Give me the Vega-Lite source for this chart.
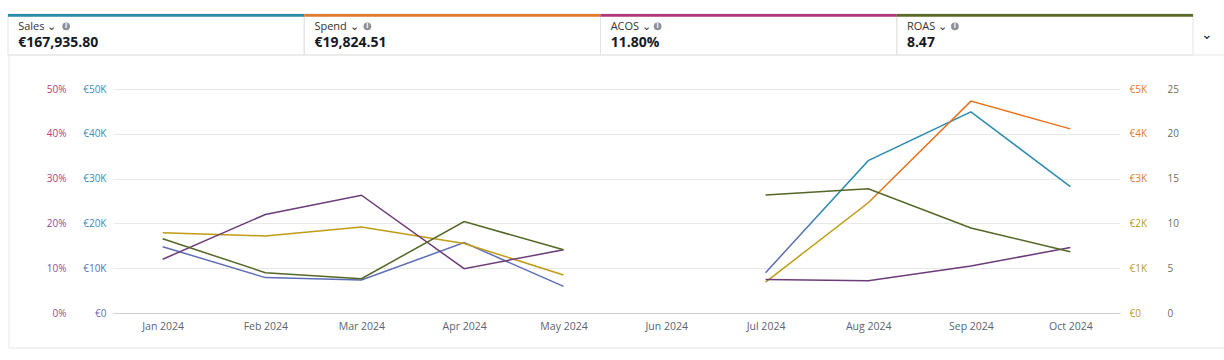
{
  "$schema": "https://vega.github.io/schema/vega-lite/v6.json",
  "width": 1007,
  "height": 224,
  "autosize": "none",
  "padding": {"left": 113, "top": 89, "right": 104, "bottom": 47},
  "background": "#ffffff",
  "config": {
    "font": "Open Sans",
    "view": {"stroke": null},
    "axis": {"labelFont": "Open Sans", "labelFontSize": 10, "ticks": false, "domain": false, "grid": false, "title": null}
  },
  "datasets": {
    "monthly": [
      {"month": "2024-01-01", "sales": 14800, "spend": 1790, "acos": 0.120, "roas": 8.29},
      {"month": "2024-02-01", "sales": 7900, "spend": 1720, "acos": 0.220, "roas": 4.5},
      {"month": "2024-03-01", "sales": 7370, "spend": 1920, "acos": 0.263, "roas": 3.83},
      {"month": "2024-04-01", "sales": 15700, "spend": 1550, "acos": 0.099, "roas": 10.2},
      {"month": "2024-05-01", "sales": 5950, "spend": 850, "acos": 0.141, "roas": 7.06},
      {"month": "2024-06-01", "sales": null, "spend": null, "acos": null, "roas": null},
      {"month": "2024-07-01", "sales": 9000, "spend": 690, "acos": 0.075, "roas": 13.17},
      {"month": "2024-08-01", "sales": 34000, "spend": 2460, "acos": 0.072, "roas": 13.87},
      {"month": "2024-09-01", "sales": 44900, "spend": 4730, "acos": 0.105, "roas": 9.49},
      {"month": "2024-10-01", "sales": 28200, "spend": 4110, "acos": 0.146, "roas": 6.84}
    ],
    "tiles": [
      {"metric": "Sales", "label": "Sales", "value": "€167,935.80"},
      {"metric": "Spend", "label": "Spend", "value": "€19,824.51"},
      {"metric": "ACOS", "label": "ACOS", "value": "11.80%"},
      {"metric": "ROAS", "label": "ROAS", "value": "8.47"}
    ],
    "card": [{"part": "card"}]
  },
  "layer": [
    {
      "data": {"name": "card"},
      "mark": {"type": "rect", "filled": false, "stroke": "#e6e6e6", "strokeWidth": 1},
      "encoding": {
        "x": {"datum": 0, "type": "quantitative", "scale": {"domain": [0, 1], "range": [-104, 1130], "nice": false, "zero": false}, "axis": null},
        "x2": {"datum": 1},
        "y": {"datum": 0, "type": "quantitative", "scale": {"domain": [0, 1], "range": [259, -34], "nice": false, "zero": false}, "axis": null},
        "y2": {"datum": 1}
      }
    },
    {
      "data": {"name": "tiles"},
      "mark": {"type": "rect", "filled": false, "stroke": "#e3e3e3", "strokeWidth": 1},
      "encoding": {
        "x": {"field": "metric", "type": "nominal", "scale": {"domain": ["Sales", "Spend", "ACOS", "ROAS"], "range": [-105, 1080], "paddingInner": 0, "paddingOuter": 0}, "axis": null},
        "y": {"datum": 0, "type": "quantitative", "scale": {"domain": [0, 1], "range": [-34, -75], "nice": false, "zero": false}, "axis": null},
        "y2": {"datum": 1}
      }
    },
    {
      "data": {"name": "tiles"},
      "mark": {"type": "rect"},
      "encoding": {
        "x": {"field": "metric", "type": "nominal", "scale": {"domain": ["Sales", "Spend", "ACOS", "ROAS"], "range": [-105, 1080], "paddingInner": 0, "paddingOuter": 0}, "axis": null},
        "y": {"datum": 0.93, "type": "quantitative", "scale": {"domain": [0, 1], "range": [-34, -75], "nice": false, "zero": false}, "axis": null},
        "y2": {"datum": 1},
        "color": {"field": "metric", "type": "nominal", "scale": {"domain": ["Sales", "Spend", "ACOS", "ROAS"], "range": ["#2a8cab", "#e07a2c", "#b2367a", "#5b6b27"]}, "legend": null}
      }
    },
    {
      "data": {"name": "tiles"},
      "mark": {"type": "point", "filled": true, "shape": "circle", "size": 60, "opacity": 1, "color": "#8d9096", "xOffset": {"expr": "datum.metric == 'Spend' ? -85 : datum.metric == 'ACOS' ? -91 : -90"}},
      "encoding": {
        "x": {"field": "metric", "type": "nominal", "scale": {"domain": ["Sales", "Spend", "ACOS", "ROAS"], "range": [-105, 1080], "paddingInner": 0, "paddingOuter": 0}, "axis": null},
        "y": {"datum": 0.7, "type": "quantitative", "scale": {"domain": [0, 1], "range": [-34, -75], "nice": false, "zero": false}, "axis": null}
      }
    },
    {
      "data": {"name": "tiles"},
      "mark": {"type": "text", "align": "center", "baseline": "middle", "fontSize": 7, "fontWeight": "bold", "fill": "#ffffff", "dx": {"expr": "datum.metric == 'Spend' ? -85 : datum.metric == 'ACOS' ? -91 : -90"}},
      "encoding": {
        "x": {"field": "metric", "type": "nominal", "scale": {"domain": ["Sales", "Spend", "ACOS", "ROAS"], "range": [-105, 1080], "paddingInner": 0, "paddingOuter": 0}, "axis": null},
        "y": {"datum": 0.7, "type": "quantitative", "scale": {"domain": [0, 1], "range": [-34, -75], "nice": false, "zero": false}, "axis": null},
        "text": {"value": "i"}
      }
    },
    {
      "data": {"name": "tiles"},
      "transform": [{"calculate": "datum.label + ' ⌄'", "as": "labelText"}],
      "mark": {"type": "text", "align": "left", "baseline": "middle", "fontSize": 11, "dx": -138, "fill": "#333333"},
      "encoding": {
        "x": {"field": "metric", "type": "nominal", "scale": {"domain": ["Sales", "Spend", "ACOS", "ROAS"], "range": [-105, 1080], "paddingInner": 0, "paddingOuter": 0}, "axis": null},
        "y": {"datum": 0.68, "type": "quantitative", "scale": {"domain": [0, 1], "range": [-34, -75], "nice": false, "zero": false}, "axis": null},
        "text": {"field": "labelText"}
      }
    },
    {
      "data": {"name": "tiles"},
      "mark": {"type": "text", "align": "left", "baseline": "middle", "fontSize": 14, "fontWeight": "bold", "dx": -138, "fill": "#16191f"},
      "encoding": {
        "x": {"field": "metric", "type": "nominal", "scale": {"domain": ["Sales", "Spend", "ACOS", "ROAS"], "range": [-105, 1080], "paddingInner": 0, "paddingOuter": 0}, "axis": null},
        "y": {"datum": 0.295, "type": "quantitative", "scale": {"domain": [0, 1], "range": [-34, -75], "nice": false, "zero": false}, "axis": null},
        "text": {"field": "value"}
      }
    },
    {
      "data": {"name": "tiles"},
      "transform": [{"filter": "datum.metric == 'ROAS'"}],
      "mark": {"type": "text", "align": "center", "baseline": "middle", "fontSize": 14, "dx": 162, "fill": "#232f3e"},
      "encoding": {
        "x": {"field": "metric", "type": "nominal", "scale": {"domain": ["Sales", "Spend", "ACOS", "ROAS"], "range": [-105, 1080], "paddingInner": 0, "paddingOuter": 0}, "axis": null},
        "y": {"datum": 0.5, "type": "quantitative", "scale": {"domain": [0, 1], "range": [-34, -75], "nice": false, "zero": false}, "axis": null},
        "text": {"value": "⌄"}
      }
    },
    {
      "data": {"name": "monthly"},
      "mark": {"type": "line", "strokeWidth": 1.5, "stroke": {"gradient": "linear", "x1": 0, "y1": 0, "x2": 0, "y2": 1, "stops": [{"offset": 0, "color": "#2b8cb0"}, {"offset": 0.53, "color": "#2b8cb0"}, {"offset": 0.72, "color": "#5d6db6"}, {"offset": 1, "color": "#5d6db6"}]}},
      "encoding": {
        "x": {"field": "month", "type": "temporal", "scale": {"type": "utc", "domain": [{"year": 2023, "month": 12, "date": 17, "utc": true}, {"year": 2024, "month": 10, "date": 16, "utc": true}]},
          "axis": {"orient": "bottom", "values": [
            {"year": 2024, "month": 1, "date": 1, "utc": true}, {"year": 2024, "month": 2, "date": 1, "utc": true},
            {"year": 2024, "month": 3, "date": 1, "utc": true}, {"year": 2024, "month": 4, "date": 1, "utc": true},
            {"year": 2024, "month": 5, "date": 1, "utc": true}, {"year": 2024, "month": 6, "date": 1, "utc": true},
            {"year": 2024, "month": 7, "date": 1, "utc": true}, {"year": 2024, "month": 8, "date": 1, "utc": true},
            {"year": 2024, "month": 9, "date": 1, "utc": true}, {"year": 2024, "month": 10, "date": 1, "utc": true}],
            "labelExpr": "utcFormat(datum.value, '%b %Y')", "domain": true, "domainColor": "#d0d0d0", "domainWidth": 1.2, "labelColor": "#5b6372", "labelFontSize": 10.5, "labelPadding": 8}},
        "y": {"field": "sales", "type": "quantitative", "scale": {"domain": [0, 50000], "nice": false},
          "axis": {"orient": "left", "values": [0, 10000, 20000, 30000, 40000, 50000], "labelExpr": "datum.value == 0 ? '€0' : '€' + datum.value / 1000 + 'K'", "grid": true, "gridColor": "#e8e8e8", "labelPadding": 7,
            "labelColor": {"condition": {"test": "datum.value >= 20000", "value": "#3a8dbb"}, "value": "#5a6fb5"}}}
      }
    },
    {
      "data": {"name": "monthly"},
      "mark": {"type": "line", "strokeWidth": 1.5, "stroke": {"gradient": "linear", "x1": 0, "y1": 0, "x2": 0, "y2": 1, "stops": [{"offset": 0, "color": "#e8711a"}, {"offset": 0.45, "color": "#e8711a"}, {"offset": 0.62, "color": "#bf9c14"}, {"offset": 1, "color": "#bf9c14"}]}},
      "encoding": {
        "x": {"field": "month", "type": "temporal", "scale": {"type": "utc", "domain": [{"year": 2023, "month": 12, "date": 17, "utc": true}, {"year": 2024, "month": 10, "date": 16, "utc": true}]}, "axis": null},
        "y": {"field": "spend", "type": "quantitative", "scale": {"domain": [0, 5000], "nice": false},
          "axis": {"orient": "right", "values": [0, 1000, 2000, 3000, 4000, 5000], "labelExpr": "datum.value == 0 ? '€0' : '€' + datum.value / 1000 + 'K'", "labelPadding": 9,
            "labelColor": {"condition": {"test": "datum.value >= 2500", "value": "#e07b2d"}, "value": "#b5a021"}}}
      }
    },
    {
      "data": {"name": "monthly"},
      "mark": {"type": "line", "strokeWidth": 1.5, "stroke": "#6e3b7a"},
      "encoding": {
        "x": {"field": "month", "type": "temporal", "scale": {"type": "utc", "domain": [{"year": 2023, "month": 12, "date": 17, "utc": true}, {"year": 2024, "month": 10, "date": 16, "utc": true}]}, "axis": null},
        "y": {"field": "acos", "type": "quantitative", "scale": {"domain": [0, 0.5], "nice": false},
          "axis": {"orient": "left", "offset": 40, "values": [0, 0.1, 0.2, 0.3, 0.4, 0.5], "format": ".0%", "labelPadding": 7,
            "labelColor": {"condition": {"test": "datum.value >= 0.3", "value": "#b2407f"}, "value": "#8f4f8f"}}}
      }
    },
    {
      "data": {"name": "monthly"},
      "mark": {"type": "line", "strokeWidth": 1.5, "stroke": "#536624"},
      "encoding": {
        "x": {"field": "month", "type": "temporal", "scale": {"type": "utc", "domain": [{"year": 2023, "month": 12, "date": 17, "utc": true}, {"year": 2024, "month": 10, "date": 16, "utc": true}]}, "axis": null},
        "y": {"field": "roas", "type": "quantitative", "scale": {"domain": [0, 25], "nice": false},
          "axis": {"orient": "right", "offset": 38, "values": [0, 5, 10, 15, 20, 25], "labelPadding": 9, "labelColor": "#6e6f5a"}}
      }
    }
  ],
  "resolve": {"scale": {"x": "independent", "y": "independent", "color": "independent"}}
}
